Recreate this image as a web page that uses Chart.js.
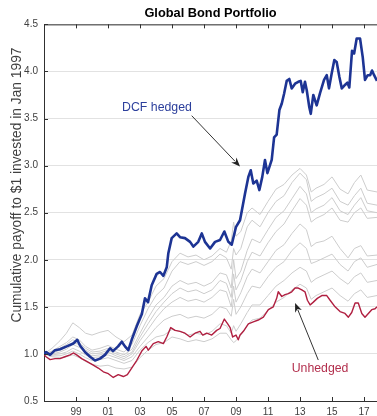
<!DOCTYPE html>
<html>
<head>
<meta charset="utf-8">
<script src="https://cdn.jsdelivr.net/npm/chart.js@4/dist/chart.umd.min.js"></script>
<style>
  html, body { margin: 0; padding: 0; background: #fff; overflow: hidden; }
  #wrap { width: 377px; height: 416px; }
</style>
</head>
<body>
<div id="wrap"><canvas id="c" width="377" height="416"></canvas></div>
<script>
// Cumulative payoff of $1 invested in Jan 1997 (time in decimal years)
const hedgedYears = [1997.00,1997.13,1997.38,1997.69,1998.00,1998.42,1998.83,1999.08,1999.25,1999.56,1999.88,2000.19,2000.50,2000.81,2001.13,2001.31,2001.63,2001.86,2002.06,2002.27,2002.48,2002.79,2003.11,2003.31,2003.50,2003.73,2004.04,2004.25,2004.46,2004.67,2004.77,2004.98,2005.29,2005.50,2005.81,2006.13,2006.33,2006.64,2006.86,2007.06,2007.38,2007.69,2008.00,2008.27,2008.52,2008.73,2009.00,2009.25,2009.56,2009.77,2009.92,2010.08,2010.29,2010.46,2010.64,2010.81,2010.96,2011.23,2011.38,2011.54,2011.71,2011.86,2012.00,2012.17,2012.33,2012.48,2012.69,2012.89,2013.04,2013.17,2013.31,2013.42,2013.58,2013.67,2013.83,2014.04,2014.25,2014.50,2014.67,2014.81,2014.98,2015.14,2015.29,2015.46,2015.61,2015.77,2015.96,2016.08,2016.25,2016.38,2016.54,2016.75,2016.92,2017.06,2017.23,2017.38,2017.50,2017.63,2017.81];
const hedgedValues = [1.00,1.02,0.99,1.04,1.05,1.08,1.11,1.15,1.09,1.02,0.97,0.93,0.95,0.99,1.06,1.03,1.08,1.13,1.08,1.04,1.15,1.29,1.42,1.59,1.55,1.73,1.85,1.87,1.83,1.92,2.07,2.23,2.28,2.24,2.23,2.19,2.14,2.19,2.28,2.19,2.12,2.19,2.21,2.30,2.19,2.16,2.35,2.42,2.70,2.88,2.95,2.81,2.84,2.74,2.88,3.06,2.92,3.06,3.30,3.33,3.59,3.66,3.76,3.90,3.92,3.82,3.87,3.89,3.90,3.78,3.89,3.80,3.62,3.55,3.75,3.64,3.77,3.91,3.96,3.82,3.98,4.12,4.10,3.94,3.82,3.85,3.88,3.83,4.22,4.19,4.35,4.35,4.15,3.91,3.96,3.96,4.01,3.96,3.90];

const unhedgedYears = [1997.00,1997.13,1997.38,1997.69,1998.00,1998.31,1998.63,1998.83,1999.04,1999.36,1999.67,2000.08,2000.39,2000.71,2001.02,2001.33,2001.64,2001.96,2002.21,2002.48,2002.79,2003.11,2003.38,2003.52,2003.83,2004.14,2004.46,2004.67,2004.92,2005.19,2005.50,2005.81,2006.13,2006.44,2006.75,2006.92,2007.17,2007.48,2007.79,2008.00,2008.27,2008.48,2008.63,2008.79,2009.00,2009.14,2009.25,2009.46,2009.77,2010.08,2010.39,2010.71,2011.02,2011.33,2011.54,2011.64,2011.86,2012.06,2012.27,2012.48,2012.69,2012.89,2013.11,2013.31,2013.46,2013.63,2013.83,2014.08,2014.36,2014.67,2014.88,2015.19,2015.50,2015.81,2016.02,2016.23,2016.44,2016.64,2016.86,2017.06,2017.27,2017.48,2017.69,2017.81];
const unhedgedValues = [0.99,0.97,0.94,0.95,0.95,0.97,0.99,1.01,0.99,0.95,0.92,0.88,0.85,0.81,0.79,0.75,0.78,0.76,0.78,0.85,0.93,1.03,1.08,1.04,1.11,1.13,1.11,1.18,1.28,1.25,1.24,1.22,1.18,1.22,1.24,1.20,1.22,1.20,1.25,1.27,1.37,1.32,1.28,1.18,1.20,1.15,1.20,1.24,1.32,1.34,1.36,1.39,1.47,1.50,1.59,1.66,1.61,1.63,1.64,1.66,1.70,1.70,1.68,1.66,1.57,1.52,1.55,1.59,1.62,1.62,1.57,1.50,1.45,1.43,1.39,1.44,1.54,1.54,1.43,1.39,1.43,1.47,1.48,1.50];

// Partially hedged alternatives, sampled on a shared time grid
const altYears = [1997.0,1997.5,1998.0,1998.4,1998.8,1999.2,1999.6,2000.0,2000.5,2001.0,2001.5,2002.0,2002.5,2003.0,2003.5,2004.0,2004.5,2005.0,2005.5,2006.0,2006.5,2007.0,2007.5,2008.0,2008.4,2008.7,2008.85,2009.0,2009.3,2009.7,2010.0,2010.5,2011.0,2011.5,2012.0,2012.5,2013.0,2013.4,2013.7,2014.0,2014.5,2015.0,2015.5,2016.0,2016.4,2016.8,2017.2,2017.81];
const altA = [1.00,1.06,1.14,1.22,1.33,1.28,1.22,1.20,1.23,1.25,1.18,1.13,1.20,1.42,1.55,1.72,1.80,1.98,2.07,2.03,2.05,2.00,2.04,2.12,2.08,2.20,2.40,2.25,2.30,2.50,2.55,2.48,2.62,2.75,2.80,2.90,2.97,2.90,2.72,2.76,2.80,2.88,2.75,2.70,2.82,2.90,2.74,2.72];
const altB = [1.00,1.03,1.08,1.12,1.18,1.15,1.08,1.04,1.06,1.09,1.05,1.02,1.10,1.30,1.48,1.62,1.70,1.88,1.98,1.95,1.98,1.94,1.98,2.06,2.02,1.90,2.12,2.05,2.12,2.35,2.42,2.35,2.50,2.62,2.68,2.82,2.92,2.85,2.62,2.66,2.70,2.76,2.62,2.58,2.68,2.76,2.60,2.58];
const altC = [1.00,1.02,1.06,1.10,1.15,1.12,1.06,1.02,1.03,1.06,1.02,0.99,1.05,1.22,1.38,1.52,1.60,1.72,1.78,1.74,1.76,1.72,1.76,1.86,1.84,1.70,2.00,1.80,1.88,2.10,2.22,2.18,2.32,2.45,2.52,2.65,2.78,2.70,2.50,2.54,2.58,2.66,2.52,2.48,2.58,2.66,2.52,2.50];
const altD = [1.00,1.01,1.04,1.07,1.12,1.10,1.04,1.00,1.01,1.04,1.00,0.97,1.02,1.18,1.32,1.45,1.55,1.64,1.70,1.66,1.68,1.64,1.68,1.78,1.75,1.60,1.85,1.68,1.78,1.98,2.08,2.04,2.18,2.30,2.38,2.52,2.65,2.58,2.40,2.44,2.48,2.55,2.42,2.40,2.50,2.55,2.44,2.45];
const altE = [1.00,1.00,1.02,1.05,1.10,1.07,1.02,0.98,0.99,1.02,0.98,0.95,1.00,1.14,1.26,1.38,1.48,1.55,1.60,1.56,1.58,1.55,1.60,1.68,1.66,1.50,1.72,1.55,1.65,1.82,1.90,1.86,1.98,2.10,2.16,2.28,2.38,2.32,2.14,2.18,2.20,2.25,2.12,2.02,2.12,2.15,2.04,2.05];
const altF = [1.00,0.99,1.00,1.02,1.06,1.03,0.99,0.96,0.97,0.99,0.96,0.93,0.97,1.08,1.18,1.28,1.36,1.40,1.42,1.38,1.40,1.38,1.42,1.50,1.48,1.40,1.58,1.42,1.50,1.64,1.72,1.70,1.82,1.92,1.98,2.10,2.18,2.12,1.96,1.98,2.02,2.06,1.95,1.88,1.98,2.02,1.92,1.95];
const altG = [1.00,0.98,0.98,1.00,1.03,1.00,0.96,0.93,0.94,0.96,0.93,0.90,0.93,1.04,1.12,1.18,1.20,1.26,1.24,1.20,1.22,1.20,1.24,1.32,1.30,1.22,1.30,1.24,1.32,1.44,1.52,1.52,1.62,1.72,1.78,1.86,1.92,1.88,1.76,1.80,1.84,1.88,1.80,1.74,1.82,1.86,1.76,1.78];
const altH = [1.00,0.97,0.96,0.97,0.99,0.96,0.92,0.89,0.87,0.88,0.85,0.84,0.86,0.96,1.04,1.10,1.12,1.18,1.16,1.13,1.15,1.13,1.16,1.22,1.22,1.15,1.12,1.14,1.20,1.30,1.36,1.38,1.46,1.55,1.60,1.68,1.74,1.70,1.58,1.62,1.66,1.70,1.62,1.56,1.64,1.68,1.60,1.62];
const altSeries = [altA, altB, altC, altD, altE, altF, altG, altH];

// Axis ticks
const xTickYears = [1999, 2001, 2003, 2005, 2007, 2009, 2011, 2013, 2015, 2017];
const xTickLabels = ['99', '01', '03', '05', '07', '09', '11', '13', '15', '17'];
const yTickValues = [0.5, 1.0, 1.5, 2.0, 2.5, 3.0, 3.5, 4.0, 4.5];

const FONT = "'Liberation Sans', Arial, Helvetica, sans-serif";
const zip = (xs, ys) => xs.map((x, i) => ({ x: x, y: ys[i] }));

const datasets = [
  { label: 'DCF hedged', data: zip(hedgedYears, hedgedValues), borderColor: '#1d3494', borderWidth: 2.6 },
  { label: 'Unhedged', data: zip(unhedgedYears, unhedgedValues), borderColor: '#b01f40', borderWidth: 1.4 }
].concat(altSeries.map((vals, i) => ({
  label: 'alt' + i, data: zip(altYears, vals), borderColor: '#cdcdcd', borderWidth: 1
})));
datasets.forEach(d => { d.pointRadius = 0; d.tension = 0; d.fill = false; d.borderJoinStyle = 'round'; });

function arrow(ctx, x1, y1, x2, y2) {
  const a = Math.atan2(y2 - y1, x2 - x1), L = 9, W = 3.6;
  ctx.beginPath(); ctx.moveTo(x1, y1);
  ctx.lineTo(x2 - Math.cos(a) * L * 0.8, y2 - Math.sin(a) * L * 0.8); ctx.stroke();
  ctx.beginPath(); ctx.moveTo(x2, y2);
  ctx.lineTo(x2 - Math.cos(a) * L - Math.sin(a) * W, y2 - Math.sin(a) * L + Math.cos(a) * W);
  ctx.lineTo(x2 - Math.cos(a) * L * 0.7, y2 - Math.sin(a) * L * 0.7);
  ctx.lineTo(x2 - Math.cos(a) * L + Math.sin(a) * W, y2 - Math.sin(a) * L - Math.cos(a) * W);
  ctx.closePath(); ctx.fill();
}

// Box ticks, y-axis caption and the two callouts
const decorations = {
  id: 'decorations',
  afterDraw(chart) {
    const ctx = chart.ctx, a = chart.chartArea, xs = chart.scales.x, ys = chart.scales.y;
    ctx.save();
    ctx.strokeStyle = '#303030'; ctx.lineWidth = 1;
    ctx.beginPath(); ctx.moveTo(a.left, a.top + 0.5); ctx.lineTo(a.right, a.top + 0.5); ctx.stroke();
    ctx.beginPath();
    xTickYears.forEach(v => {
      const px = Math.round(xs.getPixelForValue(v)) + 0.5;
      ctx.moveTo(px, a.bottom); ctx.lineTo(px, a.bottom - 4);
      ctx.moveTo(px, a.top); ctx.lineTo(px, a.top + 4);
    });
    yTickValues.forEach(v => {
      const py = Math.round(ys.getPixelForValue(v)) + 0.5;
      ctx.moveTo(a.left, py); ctx.lineTo(a.left + 4, py);
    });
    ctx.stroke();

    ctx.fillStyle = '#404040';
    ctx.font = '13.8px ' + FONT;
    ctx.textAlign = 'center'; ctx.textBaseline = 'middle';
    ctx.translate(17, 185); ctx.rotate(-Math.PI / 2);
    ctx.fillText('Cumulative payoff to $1 invested in Jan 1997', 0, 0);
    ctx.setTransform(1, 0, 0, 1, 0, 0);

    ctx.font = '12.3px ' + FONT;
    ctx.fillStyle = '#2c3f9c';
    ctx.fillText('DCF hedged', xs.getPixelForValue(2004.06), ys.getPixelForValue(3.62));
    ctx.fillStyle = '#b3304e';
    ctx.fillText('Unhedged', xs.getPixelForValue(2014.25), ys.getPixelForValue(0.84));

    ctx.strokeStyle = '#333'; ctx.fillStyle = '#222'; ctx.lineWidth = 1;
    arrow(ctx, xs.getPixelForValue(2006.23), ys.getPixelForValue(3.53), xs.getPixelForValue(2009.25), ys.getPixelForValue(2.99));
    arrow(ctx, xs.getPixelForValue(2014.14), ys.getPixelForValue(0.935), xs.getPixelForValue(2012.69), ys.getPixelForValue(1.54));
    ctx.restore();
  }
};

new Chart(document.getElementById('c'), {
  type: 'line',
  data: { datasets: datasets },
  options: {
    responsive: false,
    devicePixelRatio: 1,
    animation: false,
    events: [],
    layout: { padding: { left: 0, right: 0, top: 0, bottom: 0 } },
    plugins: {
      legend: { display: false },
      tooltip: { enabled: false },
      title: {
        display: true, fullSize: false,
        text: 'Global Bond Portfolio',
        color: '#000',
        font: { family: FONT, size: 12.8, weight: 'bold', lineHeight: 1.2 },
        padding: { top: 6, bottom: 3 }
      }
    },
    scales: {
      x: {
        type: 'linear', min: 1997, max: 2017.81,
        afterBuildTicks: s => { s.ticks = xTickYears.map(v => ({ value: v })); },
        afterFit: s => { s.height = 15; },
        ticks: {
          autoSkip: false, maxRotation: 0, padding: 5,
          color: '#404040', font: { family: FONT, size: 10 },
          callback: v => xTickLabels[xTickYears.indexOf(v)]
        },
        grid: { display: false, drawTicks: false },
        border: { display: true, color: '#303030', width: 1 }
      },
      y: {
        min: 0.5, max: 4.5,
        afterBuildTicks: s => { s.ticks = yTickValues.map(v => ({ value: v })); },
        afterFit: s => { s.width = 44; },
        ticks: {
          padding: 6, color: '#404040', font: { family: FONT, size: 10 },
          callback: v => v.toFixed(1)
        },
        grid: { color: '#e2e2e2', lineWidth: 1, drawTicks: false },
        border: { display: true, color: '#303030', width: 1 }
      }
    }
  },
  plugins: [decorations]
});
</script>
</body>
</html>
